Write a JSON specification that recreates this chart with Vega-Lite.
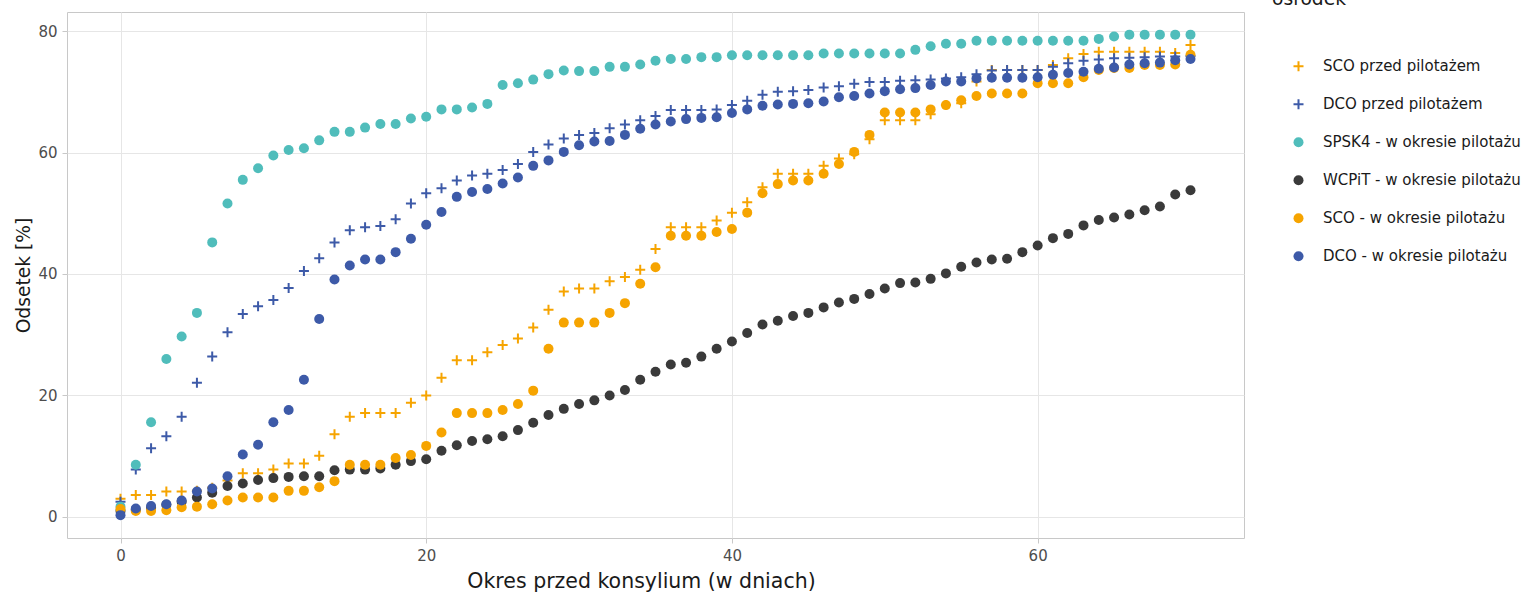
{
"$schema": "https://vega.github.io/schema/vega-lite/v6.json",
"width": 1177, "height": 526,
"autosize": {"type": "none"},
"padding": {"left": 67, "top": 12, "right": 282, "bottom": 57},
"background": "white",
"config": {
 "font": "DejaVu Sans",
 "view": {"stroke": "#c8c8c8", "strokeWidth": 1},
 "axis": {"domain": false, "grid": true, "gridColor": "#e6e6e6", "tickColor": "#c8c8c8", "tickSize": 5, "labelColor": "#4d4d4d", "labelFontSize": 15, "titleColor": "#1a1a1a", "titleFontSize": 18.7, "titleFontWeight": "normal", "labelPadding": 5},
 "legend": {"orient": "none", "legendX": 1205, "legendY": -22, "padding": 0, "titleFontSize": 18.7, "titleFontWeight": "normal", "titleColor": "#1a1a1a", "labelFontSize": 15, "labelColor": "#1a1a1a", "labelLimit": 400, "titlePadding": 50, "rowPadding": 22, "symbolOffset": 19, "labelOffset": 17, "symbolSize": 100, "symbolStrokeWidth": 0}
},
"data": {"values": [
{"d":0,"s":"SCO przed pilotażem","v":3.0},{"d":1,"s":"SCO przed pilotażem","v":3.6},{"d":2,"s":"SCO przed pilotażem","v":3.6},{"d":3,"s":"SCO przed pilotażem","v":4.2},{"d":4,"s":"SCO przed pilotażem","v":4.2},{"d":5,"s":"SCO przed pilotażem","v":4.3},{"d":6,"s":"SCO przed pilotażem","v":4.8},{"d":7,"s":"SCO przed pilotażem","v":6.0},{"d":8,"s":"SCO przed pilotażem","v":7.2},{"d":9,"s":"SCO przed pilotażem","v":7.2},{"d":10,"s":"SCO przed pilotażem","v":7.8},{"d":11,"s":"SCO przed pilotażem","v":8.8},{"d":12,"s":"SCO przed pilotażem","v":8.8},{"d":13,"s":"SCO przed pilotażem","v":10.1},{"d":14,"s":"SCO przed pilotażem","v":13.6},{"d":15,"s":"SCO przed pilotażem","v":16.5},{"d":16,"s":"SCO przed pilotażem","v":17.1},{"d":17,"s":"SCO przed pilotażem","v":17.1},{"d":18,"s":"SCO przed pilotażem","v":17.1},{"d":19,"s":"SCO przed pilotażem","v":18.8},{"d":20,"s":"SCO przed pilotażem","v":20.0},{"d":21,"s":"SCO przed pilotażem","v":22.9},{"d":22,"s":"SCO przed pilotażem","v":25.8},{"d":23,"s":"SCO przed pilotażem","v":25.8},{"d":24,"s":"SCO przed pilotażem","v":27.1},{"d":25,"s":"SCO przed pilotażem","v":28.3},{"d":26,"s":"SCO przed pilotażem","v":29.4},{"d":27,"s":"SCO przed pilotażem","v":31.2},{"d":28,"s":"SCO przed pilotażem","v":34.1},{"d":29,"s":"SCO przed pilotażem","v":37.1},{"d":30,"s":"SCO przed pilotażem","v":37.6},{"d":31,"s":"SCO przed pilotażem","v":37.6},{"d":32,"s":"SCO przed pilotażem","v":38.8},{"d":33,"s":"SCO przed pilotażem","v":39.5},{"d":34,"s":"SCO przed pilotażem","v":40.7},{"d":35,"s":"SCO przed pilotażem","v":44.1},{"d":36,"s":"SCO przed pilotażem","v":47.7},{"d":37,"s":"SCO przed pilotażem","v":47.7},{"d":38,"s":"SCO przed pilotażem","v":47.7},{"d":39,"s":"SCO przed pilotażem","v":48.8},{"d":40,"s":"SCO przed pilotażem","v":50.1},{"d":41,"s":"SCO przed pilotażem","v":51.8},{"d":42,"s":"SCO przed pilotażem","v":54.3},{"d":43,"s":"SCO przed pilotażem","v":56.5},{"d":44,"s":"SCO przed pilotażem","v":56.5},{"d":45,"s":"SCO przed pilotażem","v":56.5},{"d":46,"s":"SCO przed pilotażem","v":57.8},{"d":47,"s":"SCO przed pilotażem","v":59.0},{"d":48,"s":"SCO przed pilotażem","v":59.7},{"d":49,"s":"SCO przed pilotażem","v":62.2},{"d":50,"s":"SCO przed pilotażem","v":65.3},{"d":51,"s":"SCO przed pilotażem","v":65.3},{"d":52,"s":"SCO przed pilotażem","v":65.3},{"d":53,"s":"SCO przed pilotażem","v":66.3},{"d":54,"s":"SCO przed pilotażem","v":67.8},{"d":55,"s":"SCO przed pilotażem","v":68.1},{"d":56,"s":"SCO przed pilotażem","v":71.7},{"d":57,"s":"SCO przed pilotażem","v":73.6},{"d":58,"s":"SCO przed pilotażem","v":73.6},{"d":59,"s":"SCO przed pilotażem","v":73.6},{"d":60,"s":"SCO przed pilotażem","v":73.6},{"d":61,"s":"SCO przed pilotażem","v":74.4},{"d":62,"s":"SCO przed pilotażem","v":75.5},{"d":63,"s":"SCO przed pilotażem","v":76.2},{"d":64,"s":"SCO przed pilotażem","v":76.6},{"d":65,"s":"SCO przed pilotażem","v":76.6},{"d":66,"s":"SCO przed pilotażem","v":76.6},{"d":67,"s":"SCO przed pilotażem","v":76.6},{"d":68,"s":"SCO przed pilotażem","v":76.6},{"d":69,"s":"SCO przed pilotażem","v":76.4},{"d":70,"s":"SCO przed pilotażem","v":77.7},
{"d":0,"s":"DCO przed pilotażem","v":2.5},{"d":1,"s":"DCO przed pilotażem","v":7.8},{"d":2,"s":"DCO przed pilotażem","v":11.3},{"d":3,"s":"DCO przed pilotażem","v":13.3},{"d":4,"s":"DCO przed pilotażem","v":16.5},{"d":5,"s":"DCO przed pilotażem","v":22.1},{"d":6,"s":"DCO przed pilotażem","v":26.4},{"d":7,"s":"DCO przed pilotażem","v":30.4},{"d":8,"s":"DCO przed pilotażem","v":33.4},{"d":9,"s":"DCO przed pilotażem","v":34.7},{"d":10,"s":"DCO przed pilotażem","v":35.7},{"d":11,"s":"DCO przed pilotażem","v":37.7},{"d":12,"s":"DCO przed pilotażem","v":40.5},{"d":13,"s":"DCO przed pilotażem","v":42.6},{"d":14,"s":"DCO przed pilotażem","v":45.2},{"d":15,"s":"DCO przed pilotażem","v":47.2},{"d":16,"s":"DCO przed pilotażem","v":47.7},{"d":17,"s":"DCO przed pilotażem","v":47.9},{"d":18,"s":"DCO przed pilotażem","v":49.0},{"d":19,"s":"DCO przed pilotażem","v":51.6},{"d":20,"s":"DCO przed pilotażem","v":53.3},{"d":21,"s":"DCO przed pilotażem","v":54.1},{"d":22,"s":"DCO przed pilotażem","v":55.4},{"d":23,"s":"DCO przed pilotażem","v":56.2},{"d":24,"s":"DCO przed pilotażem","v":56.5},{"d":25,"s":"DCO przed pilotażem","v":57.1},{"d":26,"s":"DCO przed pilotażem","v":58.1},{"d":27,"s":"DCO przed pilotażem","v":60.1},{"d":28,"s":"DCO przed pilotażem","v":61.3},{"d":29,"s":"DCO przed pilotażem","v":62.3},{"d":30,"s":"DCO przed pilotażem","v":62.9},{"d":31,"s":"DCO przed pilotażem","v":63.2},{"d":32,"s":"DCO przed pilotażem","v":64.0},{"d":33,"s":"DCO przed pilotażem","v":64.6},{"d":34,"s":"DCO przed pilotażem","v":65.3},{"d":35,"s":"DCO przed pilotażem","v":66.0},{"d":36,"s":"DCO przed pilotażem","v":67.0},{"d":37,"s":"DCO przed pilotażem","v":67.0},{"d":38,"s":"DCO przed pilotażem","v":67.0},{"d":39,"s":"DCO przed pilotażem","v":67.1},{"d":40,"s":"DCO przed pilotażem","v":67.8},{"d":41,"s":"DCO przed pilotażem","v":68.5},{"d":42,"s":"DCO przed pilotażem","v":69.5},{"d":43,"s":"DCO przed pilotażem","v":70.0},{"d":44,"s":"DCO przed pilotażem","v":70.1},{"d":45,"s":"DCO przed pilotażem","v":70.3},{"d":46,"s":"DCO przed pilotażem","v":70.7},{"d":47,"s":"DCO przed pilotażem","v":70.9},{"d":48,"s":"DCO przed pilotażem","v":71.3},{"d":49,"s":"DCO przed pilotażem","v":71.6},{"d":50,"s":"DCO przed pilotażem","v":71.6},{"d":51,"s":"DCO przed pilotażem","v":71.8},{"d":52,"s":"DCO przed pilotażem","v":71.9},{"d":53,"s":"DCO przed pilotażem","v":72.0},{"d":54,"s":"DCO przed pilotażem","v":72.2},{"d":55,"s":"DCO przed pilotażem","v":72.4},{"d":56,"s":"DCO przed pilotażem","v":72.9},{"d":57,"s":"DCO przed pilotażem","v":73.5},{"d":58,"s":"DCO przed pilotażem","v":73.6},{"d":59,"s":"DCO przed pilotażem","v":73.6},{"d":60,"s":"DCO przed pilotażem","v":73.6},{"d":61,"s":"DCO przed pilotażem","v":74.1},{"d":62,"s":"DCO przed pilotażem","v":74.7},{"d":63,"s":"DCO przed pilotażem","v":75.1},{"d":64,"s":"DCO przed pilotażem","v":75.3},{"d":65,"s":"DCO przed pilotażem","v":75.5},{"d":66,"s":"DCO przed pilotażem","v":75.6},{"d":67,"s":"DCO przed pilotażem","v":75.7},{"d":68,"s":"DCO przed pilotażem","v":75.8},{"d":69,"s":"DCO przed pilotażem","v":75.8},{"d":70,"s":"DCO przed pilotażem","v":75.9},
{"d":0,"s":"SPSK4 - w okresie pilotażu","v":1.7},{"d":1,"s":"SPSK4 - w okresie pilotażu","v":8.6},{"d":2,"s":"SPSK4 - w okresie pilotażu","v":15.6},{"d":3,"s":"SPSK4 - w okresie pilotażu","v":26.0},{"d":4,"s":"SPSK4 - w okresie pilotażu","v":29.7},{"d":5,"s":"SPSK4 - w okresie pilotażu","v":33.6},{"d":6,"s":"SPSK4 - w okresie pilotażu","v":45.2},{"d":7,"s":"SPSK4 - w okresie pilotażu","v":51.6},{"d":8,"s":"SPSK4 - w okresie pilotażu","v":55.5},{"d":9,"s":"SPSK4 - w okresie pilotażu","v":57.4},{"d":10,"s":"SPSK4 - w okresie pilotażu","v":59.5},{"d":11,"s":"SPSK4 - w okresie pilotażu","v":60.4},{"d":12,"s":"SPSK4 - w okresie pilotażu","v":60.7},{"d":13,"s":"SPSK4 - w okresie pilotażu","v":62.0},{"d":14,"s":"SPSK4 - w okresie pilotażu","v":63.4},{"d":15,"s":"SPSK4 - w okresie pilotażu","v":63.4},{"d":16,"s":"SPSK4 - w okresie pilotażu","v":64.1},{"d":17,"s":"SPSK4 - w okresie pilotażu","v":64.7},{"d":18,"s":"SPSK4 - w okresie pilotażu","v":64.7},{"d":19,"s":"SPSK4 - w okresie pilotażu","v":65.6},{"d":20,"s":"SPSK4 - w okresie pilotażu","v":65.9},{"d":21,"s":"SPSK4 - w okresie pilotażu","v":67.1},{"d":22,"s":"SPSK4 - w okresie pilotażu","v":67.1},{"d":23,"s":"SPSK4 - w okresie pilotażu","v":67.4},{"d":24,"s":"SPSK4 - w okresie pilotażu","v":68.0},{"d":25,"s":"SPSK4 - w okresie pilotażu","v":71.1},{"d":26,"s":"SPSK4 - w okresie pilotażu","v":71.4},{"d":27,"s":"SPSK4 - w okresie pilotażu","v":72.0},{"d":28,"s":"SPSK4 - w okresie pilotażu","v":72.9},{"d":29,"s":"SPSK4 - w okresie pilotażu","v":73.5},{"d":30,"s":"SPSK4 - w okresie pilotażu","v":73.4},{"d":31,"s":"SPSK4 - w okresie pilotażu","v":73.4},{"d":32,"s":"SPSK4 - w okresie pilotażu","v":74.1},{"d":33,"s":"SPSK4 - w okresie pilotażu","v":74.1},{"d":34,"s":"SPSK4 - w okresie pilotażu","v":74.5},{"d":35,"s":"SPSK4 - w okresie pilotażu","v":75.1},{"d":36,"s":"SPSK4 - w okresie pilotażu","v":75.4},{"d":37,"s":"SPSK4 - w okresie pilotażu","v":75.4},{"d":38,"s":"SPSK4 - w okresie pilotażu","v":75.7},{"d":39,"s":"SPSK4 - w okresie pilotażu","v":75.7},{"d":40,"s":"SPSK4 - w okresie pilotażu","v":76.0},{"d":41,"s":"SPSK4 - w okresie pilotażu","v":76.0},{"d":42,"s":"SPSK4 - w okresie pilotażu","v":76.0},{"d":43,"s":"SPSK4 - w okresie pilotażu","v":76.0},{"d":44,"s":"SPSK4 - w okresie pilotażu","v":76.0},{"d":45,"s":"SPSK4 - w okresie pilotażu","v":76.0},{"d":46,"s":"SPSK4 - w okresie pilotażu","v":76.3},{"d":47,"s":"SPSK4 - w okresie pilotażu","v":76.3},{"d":48,"s":"SPSK4 - w okresie pilotażu","v":76.3},{"d":49,"s":"SPSK4 - w okresie pilotażu","v":76.3},{"d":50,"s":"SPSK4 - w okresie pilotażu","v":76.3},{"d":51,"s":"SPSK4 - w okresie pilotażu","v":76.3},{"d":52,"s":"SPSK4 - w okresie pilotażu","v":76.9},{"d":53,"s":"SPSK4 - w okresie pilotażu","v":77.5},{"d":54,"s":"SPSK4 - w okresie pilotażu","v":77.9},{"d":55,"s":"SPSK4 - w okresie pilotażu","v":77.9},{"d":56,"s":"SPSK4 - w okresie pilotażu","v":78.4},{"d":57,"s":"SPSK4 - w okresie pilotażu","v":78.4},{"d":58,"s":"SPSK4 - w okresie pilotażu","v":78.4},{"d":59,"s":"SPSK4 - w okresie pilotażu","v":78.4},{"d":60,"s":"SPSK4 - w okresie pilotażu","v":78.4},{"d":61,"s":"SPSK4 - w okresie pilotażu","v":78.4},{"d":62,"s":"SPSK4 - w okresie pilotażu","v":78.4},{"d":63,"s":"SPSK4 - w okresie pilotażu","v":78.4},{"d":64,"s":"SPSK4 - w okresie pilotażu","v":78.7},{"d":65,"s":"SPSK4 - w okresie pilotażu","v":79.1},{"d":66,"s":"SPSK4 - w okresie pilotażu","v":79.4},{"d":67,"s":"SPSK4 - w okresie pilotażu","v":79.4},{"d":68,"s":"SPSK4 - w okresie pilotażu","v":79.4},{"d":69,"s":"SPSK4 - w okresie pilotażu","v":79.4},{"d":70,"s":"SPSK4 - w okresie pilotażu","v":79.4},
{"d":0,"s":"WCPiT - w okresie pilotażu","v":1.0},{"d":1,"s":"WCPiT - w okresie pilotażu","v":1.2},{"d":2,"s":"WCPiT - w okresie pilotażu","v":1.5},{"d":3,"s":"WCPiT - w okresie pilotażu","v":2.0},{"d":4,"s":"WCPiT - w okresie pilotażu","v":2.5},{"d":5,"s":"WCPiT - w okresie pilotażu","v":3.2},{"d":6,"s":"WCPiT - w okresie pilotażu","v":4.0},{"d":7,"s":"WCPiT - w okresie pilotażu","v":5.1},{"d":8,"s":"WCPiT - w okresie pilotażu","v":5.5},{"d":9,"s":"WCPiT - w okresie pilotażu","v":6.1},{"d":10,"s":"WCPiT - w okresie pilotażu","v":6.4},{"d":11,"s":"WCPiT - w okresie pilotażu","v":6.6},{"d":12,"s":"WCPiT - w okresie pilotażu","v":6.7},{"d":13,"s":"WCPiT - w okresie pilotażu","v":6.7},{"d":14,"s":"WCPiT - w okresie pilotażu","v":7.7},{"d":15,"s":"WCPiT - w okresie pilotażu","v":7.8},{"d":16,"s":"WCPiT - w okresie pilotażu","v":7.8},{"d":17,"s":"WCPiT - w okresie pilotażu","v":8.0},{"d":18,"s":"WCPiT - w okresie pilotażu","v":8.6},{"d":19,"s":"WCPiT - w okresie pilotażu","v":9.2},{"d":20,"s":"WCPiT - w okresie pilotażu","v":9.5},{"d":21,"s":"WCPiT - w okresie pilotażu","v":10.9},{"d":22,"s":"WCPiT - w okresie pilotażu","v":11.8},{"d":23,"s":"WCPiT - w okresie pilotażu","v":12.5},{"d":24,"s":"WCPiT - w okresie pilotażu","v":12.8},{"d":25,"s":"WCPiT - w okresie pilotażu","v":13.3},{"d":26,"s":"WCPiT - w okresie pilotażu","v":14.3},{"d":27,"s":"WCPiT - w okresie pilotażu","v":15.5},{"d":28,"s":"WCPiT - w okresie pilotażu","v":16.8},{"d":29,"s":"WCPiT - w okresie pilotażu","v":17.8},{"d":30,"s":"WCPiT - w okresie pilotażu","v":18.6},{"d":31,"s":"WCPiT - w okresie pilotażu","v":19.2},{"d":32,"s":"WCPiT - w okresie pilotażu","v":20.0},{"d":33,"s":"WCPiT - w okresie pilotażu","v":20.9},{"d":34,"s":"WCPiT - w okresie pilotażu","v":22.6},{"d":35,"s":"WCPiT - w okresie pilotażu","v":23.9},{"d":36,"s":"WCPiT - w okresie pilotażu","v":25.1},{"d":37,"s":"WCPiT - w okresie pilotażu","v":25.4},{"d":38,"s":"WCPiT - w okresie pilotażu","v":26.4},{"d":39,"s":"WCPiT - w okresie pilotażu","v":27.7},{"d":40,"s":"WCPiT - w okresie pilotażu","v":28.9},{"d":41,"s":"WCPiT - w okresie pilotażu","v":30.3},{"d":42,"s":"WCPiT - w okresie pilotażu","v":31.7},{"d":43,"s":"WCPiT - w okresie pilotażu","v":32.3},{"d":44,"s":"WCPiT - w okresie pilotażu","v":33.1},{"d":45,"s":"WCPiT - w okresie pilotażu","v":33.6},{"d":46,"s":"WCPiT - w okresie pilotażu","v":34.5},{"d":47,"s":"WCPiT - w okresie pilotażu","v":35.3},{"d":48,"s":"WCPiT - w okresie pilotażu","v":35.9},{"d":49,"s":"WCPiT - w okresie pilotażu","v":36.7},{"d":50,"s":"WCPiT - w okresie pilotażu","v":37.6},{"d":51,"s":"WCPiT - w okresie pilotażu","v":38.5},{"d":52,"s":"WCPiT - w okresie pilotażu","v":38.6},{"d":53,"s":"WCPiT - w okresie pilotażu","v":39.2},{"d":54,"s":"WCPiT - w okresie pilotażu","v":40.1},{"d":55,"s":"WCPiT - w okresie pilotażu","v":41.2},{"d":56,"s":"WCPiT - w okresie pilotażu","v":41.9},{"d":57,"s":"WCPiT - w okresie pilotażu","v":42.4},{"d":58,"s":"WCPiT - w okresie pilotażu","v":42.5},{"d":59,"s":"WCPiT - w okresie pilotażu","v":43.6},{"d":60,"s":"WCPiT - w okresie pilotażu","v":44.7},{"d":61,"s":"WCPiT - w okresie pilotażu","v":45.9},{"d":62,"s":"WCPiT - w okresie pilotażu","v":46.6},{"d":63,"s":"WCPiT - w okresie pilotażu","v":48.0},{"d":64,"s":"WCPiT - w okresie pilotażu","v":48.9},{"d":65,"s":"WCPiT - w okresie pilotażu","v":49.3},{"d":66,"s":"WCPiT - w okresie pilotażu","v":49.8},{"d":67,"s":"WCPiT - w okresie pilotażu","v":50.5},{"d":68,"s":"WCPiT - w okresie pilotażu","v":51.1},{"d":69,"s":"WCPiT - w okresie pilotażu","v":53.1},{"d":70,"s":"WCPiT - w okresie pilotażu","v":53.8},
{"d":0,"s":"SCO - w okresie pilotażu","v":1.3},{"d":1,"s":"SCO - w okresie pilotażu","v":1.0},{"d":2,"s":"SCO - w okresie pilotażu","v":1.0},{"d":3,"s":"SCO - w okresie pilotażu","v":1.1},{"d":4,"s":"SCO - w okresie pilotażu","v":1.6},{"d":5,"s":"SCO - w okresie pilotażu","v":1.7},{"d":6,"s":"SCO - w okresie pilotażu","v":2.1},{"d":7,"s":"SCO - w okresie pilotażu","v":2.7},{"d":8,"s":"SCO - w okresie pilotażu","v":3.2},{"d":9,"s":"SCO - w okresie pilotażu","v":3.2},{"d":10,"s":"SCO - w okresie pilotażu","v":3.2},{"d":11,"s":"SCO - w okresie pilotażu","v":4.3},{"d":12,"s":"SCO - w okresie pilotażu","v":4.3},{"d":13,"s":"SCO - w okresie pilotażu","v":4.9},{"d":14,"s":"SCO - w okresie pilotażu","v":5.9},{"d":15,"s":"SCO - w okresie pilotażu","v":8.6},{"d":16,"s":"SCO - w okresie pilotażu","v":8.6},{"d":17,"s":"SCO - w okresie pilotażu","v":8.6},{"d":18,"s":"SCO - w okresie pilotażu","v":9.7},{"d":19,"s":"SCO - w okresie pilotażu","v":10.2},{"d":20,"s":"SCO - w okresie pilotażu","v":11.7},{"d":21,"s":"SCO - w okresie pilotażu","v":13.9},{"d":22,"s":"SCO - w okresie pilotażu","v":17.1},{"d":23,"s":"SCO - w okresie pilotażu","v":17.1},{"d":24,"s":"SCO - w okresie pilotażu","v":17.1},{"d":25,"s":"SCO - w okresie pilotażu","v":17.6},{"d":26,"s":"SCO - w okresie pilotażu","v":18.6},{"d":27,"s":"SCO - w okresie pilotażu","v":20.8},{"d":28,"s":"SCO - w okresie pilotażu","v":27.7},{"d":29,"s":"SCO - w okresie pilotażu","v":32.0},{"d":30,"s":"SCO - w okresie pilotażu","v":32.0},{"d":31,"s":"SCO - w okresie pilotażu","v":32.0},{"d":32,"s":"SCO - w okresie pilotażu","v":33.6},{"d":33,"s":"SCO - w okresie pilotażu","v":35.2},{"d":34,"s":"SCO - w okresie pilotażu","v":38.4},{"d":35,"s":"SCO - w okresie pilotażu","v":41.1},{"d":36,"s":"SCO - w okresie pilotażu","v":46.3},{"d":37,"s":"SCO - w okresie pilotażu","v":46.3},{"d":38,"s":"SCO - w okresie pilotażu","v":46.3},{"d":39,"s":"SCO - w okresie pilotażu","v":46.9},{"d":40,"s":"SCO - w okresie pilotażu","v":47.4},{"d":41,"s":"SCO - w okresie pilotażu","v":50.1},{"d":42,"s":"SCO - w okresie pilotażu","v":53.3},{"d":43,"s":"SCO - w okresie pilotażu","v":54.8},{"d":44,"s":"SCO - w okresie pilotażu","v":55.4},{"d":45,"s":"SCO - w okresie pilotażu","v":55.4},{"d":46,"s":"SCO - w okresie pilotażu","v":56.5},{"d":47,"s":"SCO - w okresie pilotażu","v":58.1},{"d":48,"s":"SCO - w okresie pilotażu","v":60.1},{"d":49,"s":"SCO - w okresie pilotażu","v":62.9},{"d":50,"s":"SCO - w okresie pilotażu","v":66.6},{"d":51,"s":"SCO - w okresie pilotażu","v":66.6},{"d":52,"s":"SCO - w okresie pilotażu","v":66.6},{"d":53,"s":"SCO - w okresie pilotażu","v":67.1},{"d":54,"s":"SCO - w okresie pilotażu","v":67.8},{"d":55,"s":"SCO - w okresie pilotażu","v":68.6},{"d":56,"s":"SCO - w okresie pilotażu","v":69.3},{"d":57,"s":"SCO - w okresie pilotażu","v":69.7},{"d":58,"s":"SCO - w okresie pilotażu","v":69.7},{"d":59,"s":"SCO - w okresie pilotażu","v":69.7},{"d":60,"s":"SCO - w okresie pilotażu","v":71.4},{"d":61,"s":"SCO - w okresie pilotażu","v":71.4},{"d":62,"s":"SCO - w okresie pilotażu","v":71.4},{"d":63,"s":"SCO - w okresie pilotażu","v":72.4},{"d":64,"s":"SCO - w okresie pilotażu","v":73.6},{"d":65,"s":"SCO - w okresie pilotażu","v":73.9},{"d":66,"s":"SCO - w okresie pilotażu","v":73.9},{"d":67,"s":"SCO - w okresie pilotażu","v":74.4},{"d":68,"s":"SCO - w okresie pilotażu","v":74.4},{"d":69,"s":"SCO - w okresie pilotażu","v":74.5},{"d":70,"s":"SCO - w okresie pilotażu","v":76.1},
{"d":0,"s":"DCO - w okresie pilotażu","v":0.3},{"d":1,"s":"DCO - w okresie pilotażu","v":1.4},{"d":2,"s":"DCO - w okresie pilotażu","v":1.8},{"d":3,"s":"DCO - w okresie pilotażu","v":2.1},{"d":4,"s":"DCO - w okresie pilotażu","v":2.7},{"d":5,"s":"DCO - w okresie pilotażu","v":4.2},{"d":6,"s":"DCO - w okresie pilotażu","v":4.7},{"d":7,"s":"DCO - w okresie pilotażu","v":6.7},{"d":8,"s":"DCO - w okresie pilotażu","v":10.3},{"d":9,"s":"DCO - w okresie pilotażu","v":11.9},{"d":10,"s":"DCO - w okresie pilotażu","v":15.6},{"d":11,"s":"DCO - w okresie pilotażu","v":17.6},{"d":12,"s":"DCO - w okresie pilotażu","v":22.6},{"d":13,"s":"DCO - w okresie pilotażu","v":32.6},{"d":14,"s":"DCO - w okresie pilotażu","v":39.1},{"d":15,"s":"DCO - w okresie pilotażu","v":41.4},{"d":16,"s":"DCO - w okresie pilotażu","v":42.4},{"d":17,"s":"DCO - w okresie pilotażu","v":42.4},{"d":18,"s":"DCO - w okresie pilotażu","v":43.6},{"d":19,"s":"DCO - w okresie pilotażu","v":45.8},{"d":20,"s":"DCO - w okresie pilotażu","v":48.1},{"d":21,"s":"DCO - w okresie pilotażu","v":50.2},{"d":22,"s":"DCO - w okresie pilotażu","v":52.7},{"d":23,"s":"DCO - w okresie pilotażu","v":53.5},{"d":24,"s":"DCO - w okresie pilotażu","v":54.0},{"d":25,"s":"DCO - w okresie pilotażu","v":54.9},{"d":26,"s":"DCO - w okresie pilotażu","v":55.9},{"d":27,"s":"DCO - w okresie pilotażu","v":57.8},{"d":28,"s":"DCO - w okresie pilotażu","v":58.7},{"d":29,"s":"DCO - w okresie pilotażu","v":60.1},{"d":30,"s":"DCO - w okresie pilotażu","v":61.2},{"d":31,"s":"DCO - w okresie pilotażu","v":61.8},{"d":32,"s":"DCO - w okresie pilotażu","v":61.9},{"d":33,"s":"DCO - w okresie pilotażu","v":62.9},{"d":34,"s":"DCO - w okresie pilotażu","v":63.9},{"d":35,"s":"DCO - w okresie pilotażu","v":64.6},{"d":36,"s":"DCO - w okresie pilotażu","v":65.1},{"d":37,"s":"DCO - w okresie pilotażu","v":65.5},{"d":38,"s":"DCO - w okresie pilotażu","v":65.7},{"d":39,"s":"DCO - w okresie pilotażu","v":65.8},{"d":40,"s":"DCO - w okresie pilotażu","v":66.5},{"d":41,"s":"DCO - w okresie pilotażu","v":67.1},{"d":42,"s":"DCO - w okresie pilotażu","v":67.7},{"d":43,"s":"DCO - w okresie pilotażu","v":67.9},{"d":44,"s":"DCO - w okresie pilotażu","v":68.0},{"d":45,"s":"DCO - w okresie pilotażu","v":68.1},{"d":46,"s":"DCO - w okresie pilotażu","v":68.4},{"d":47,"s":"DCO - w okresie pilotażu","v":69.1},{"d":48,"s":"DCO - w okresie pilotażu","v":69.3},{"d":49,"s":"DCO - w okresie pilotażu","v":69.7},{"d":50,"s":"DCO - w okresie pilotażu","v":70.1},{"d":51,"s":"DCO - w okresie pilotażu","v":70.4},{"d":52,"s":"DCO - w okresie pilotażu","v":70.6},{"d":53,"s":"DCO - w okresie pilotażu","v":71.1},{"d":54,"s":"DCO - w okresie pilotażu","v":71.7},{"d":55,"s":"DCO - w okresie pilotażu","v":71.7},{"d":56,"s":"DCO - w okresie pilotażu","v":72.2},{"d":57,"s":"DCO - w okresie pilotażu","v":72.3},{"d":58,"s":"DCO - w okresie pilotażu","v":72.3},{"d":59,"s":"DCO - w okresie pilotażu","v":72.3},{"d":60,"s":"DCO - w okresie pilotażu","v":72.4},{"d":61,"s":"DCO - w okresie pilotażu","v":72.8},{"d":62,"s":"DCO - w okresie pilotażu","v":73.1},{"d":63,"s":"DCO - w okresie pilotażu","v":73.3},{"d":64,"s":"DCO - w okresie pilotażu","v":73.8},{"d":65,"s":"DCO - w okresie pilotażu","v":74.0},{"d":66,"s":"DCO - w okresie pilotażu","v":74.5},{"d":67,"s":"DCO - w okresie pilotażu","v":74.7},{"d":68,"s":"DCO - w okresie pilotażu","v":74.8},{"d":69,"s":"DCO - w okresie pilotażu","v":75.2},{"d":70,"s":"DCO - w okresie pilotażu","v":75.4}
]},
"mark": {"type": "point", "filled": true, "size": 100, "opacity": 1},
"encoding": {
 "x": {"field": "d", "type": "quantitative", "scale": {"domain": [-3.5, 73.5], "nice": false, "zero": false}, "axis": {"values": [0, 20, 40, 60], "title": "Okres przed konsylium (w dniach)", "titlePadding": 8, "titleFontSize": 20.5, "titleX": 574, "titleAlign": "center"}},
 "y": {"field": "v", "type": "quantitative", "scale": {"domain": [-3.46, 83.13], "nice": false, "zero": false}, "axis": {"values": [0, 20, 40, 60, 80], "title": "Odsetek [%]", "titlePadding": 4}},
 "color": {"field": "s", "type": "nominal", "title": "ośrodek",
   "scale": {"domain": ["SCO przed pilotażem", "DCO przed pilotażem", "SPSK4 - w okresie pilotażu", "WCPiT - w okresie pilotażu", "SCO - w okresie pilotażu", "DCO - w okresie pilotażu"],
             "range": ["#F6A400", "#3D5AA8", "#50BDBB", "#3A3A3A", "#F6A400", "#3D5AA8"]}},
 "shape": {"field": "s", "type": "nominal", "title": "ośrodek",
   "scale": {"domain": ["SCO przed pilotażem", "DCO przed pilotażem", "SPSK4 - w okresie pilotażu", "WCPiT - w okresie pilotażu", "SCO - w okresie pilotażu", "DCO - w okresie pilotażu"],
             "range": ["M-1,-0.2H-0.2V-1H0.2V-0.2H1V0.2H0.2V1H-0.2V0.2H-1Z", "M-1,-0.2H-0.2V-1H0.2V-0.2H1V0.2H0.2V1H-0.2V0.2H-1Z", "circle", "circle", "circle", "circle"]}}
}
}
